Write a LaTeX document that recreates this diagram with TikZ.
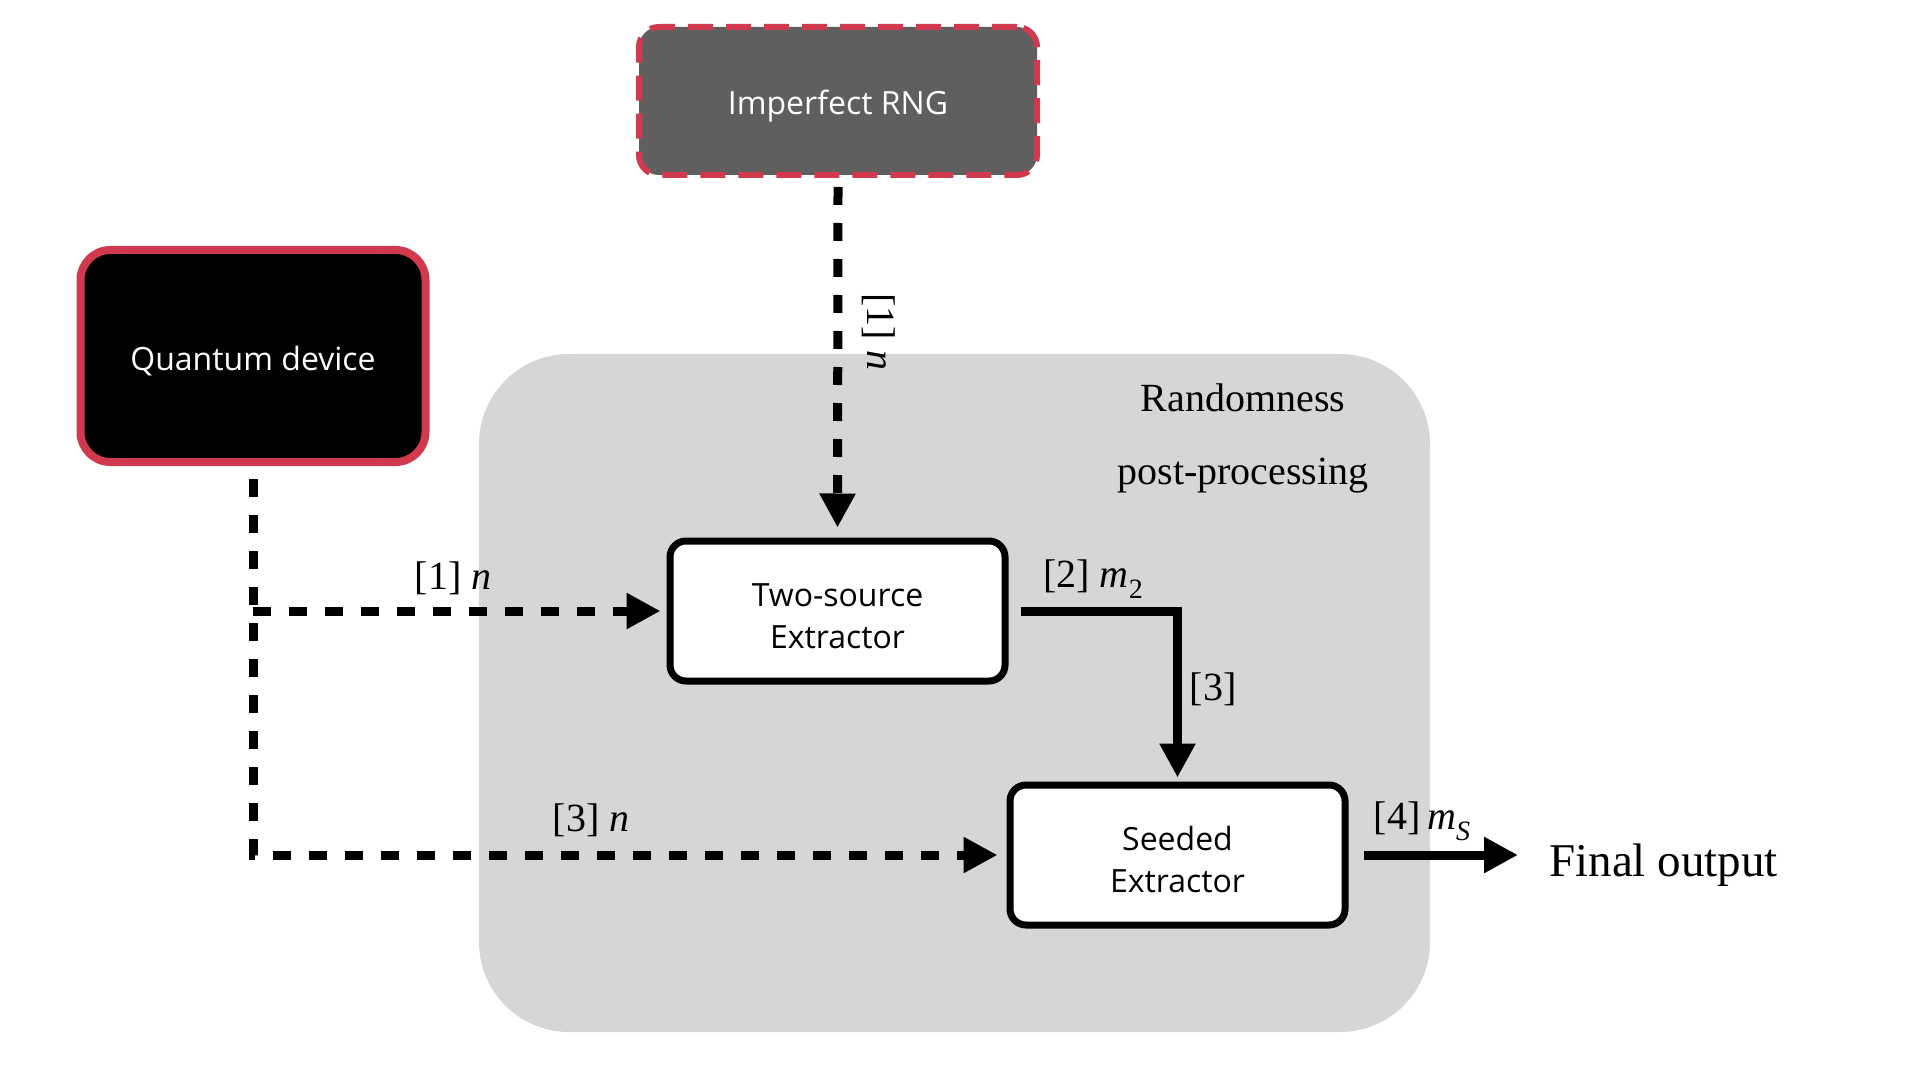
\documentclass[tikz,border=0pt]{standalone}
\usepackage{fontspec}
\setmainfont{Liberation Serif}
\newfontfamily\uisans{Open Sans}
\usetikzlibrary{arrows.meta}
\definecolor{bgray}{HTML}{D6D6D6}
\definecolor{rnggray}{HTML}{5F5F5F}
\definecolor{qred}{HTML}{D0394E}
\newcommand{\lift}{\rule{0pt}{17pt}}
\newcommand{\sub}[1]{\raisebox{-0.28em}{\fontsize{14}{14}\selectfont #1}}
\begin{document}
\begin{tikzpicture}[x=0.5pt,y=-0.5pt,
  sansfont/.style={font=\uisans\fontsize{16}{21}\selectfont},
  extbox/.style={sansfont, draw=black, line width=3.5pt, fill=white, rounded corners=8pt,
    minimum width=167.5pt, minimum height=70pt, align=center, inner sep=0pt},
  qdbox/.style={sansfont, text=white, draw=qred, fill=black, line width=4pt, rounded corners=15pt,
    minimum width=172.5pt, minimum height=106pt, inner sep=0pt},
  rngbox/.style={sansfont, text=white, draw=qred, fill=rnggray, line width=3pt, rounded corners=10pt,
    dash pattern=on 12.5pt off 6.5pt, minimum width=199pt, minimum height=74pt, inner sep=0pt},
  flow/.style={line width=4.5pt, -{Triangle[length=17pt,width=17pt]}},
  dflow/.style={flow, dash pattern=on 9pt off 9pt},
  lbl/.style={font=\fontsize{20}{22}\selectfont, inner sep=0pt}
]
\useasboundingbox (0,0) rectangle (1920,1080);
\fill[bgray, rounded corners=45pt] (479,354) rectangle (1430,1032);

\node[rngbox] (rng) at (838,101) {\lift Imperfect RNG};
\node[qdbox] (qd) at (253,356) {\lift Quantum device};
\node[extbox] (ts) at (837.5,611) {\lift Two-source\\Extractor};
\node[extbox] (se) at (1177.5,855) {\lift Seeded\\Extractor};
\node[font=\fontsize{23.5}{26}\selectfont, inner sep=0pt, anchor=west] (fo) at (1549,865) {Final output};
\node[font=\fontsize{20}{36.5}\selectfont, align=center, inner sep=0pt] (rp) at (1243,438) {Randomness\\post-processing};

\draw[dflow, shorten >=5pt] ([yshift=-4.5pt]rng.south) -- (ts.north);
\draw[dflow, shorten >=4.5pt] ([yshift=-6.5pt]qd.south) |- (se.west);
\draw[dflow, shorten >=3pt] (qd.south |- ts.west) -- (ts.west);
\draw[flow, shorten >=2pt] ([xshift=6pt]ts.east) -| (se.north);
\draw[flow, shorten >=15.5pt] ([xshift=7.5pt]se.east) -- (se.east -| fo.west);

\node[lbl, rotate=-90] (l1v) at (879,332) {[1] \textit{n}};
\node[lbl] (l1) at (453,578) {[1] \textit{n}};
\node[lbl] (l2) at (1093,579) {[2] \textit{m}\sub{2}};
\node[lbl] (l3) at (1213,689) {[3]};
\node[lbl] (l3n) at (591,820) {[3] \textit{n}};
\node[lbl] (l4) at (1422,821) {[4]\,\textit{m}\sub{\textit{S}}};
\end{tikzpicture}
\end{document}
